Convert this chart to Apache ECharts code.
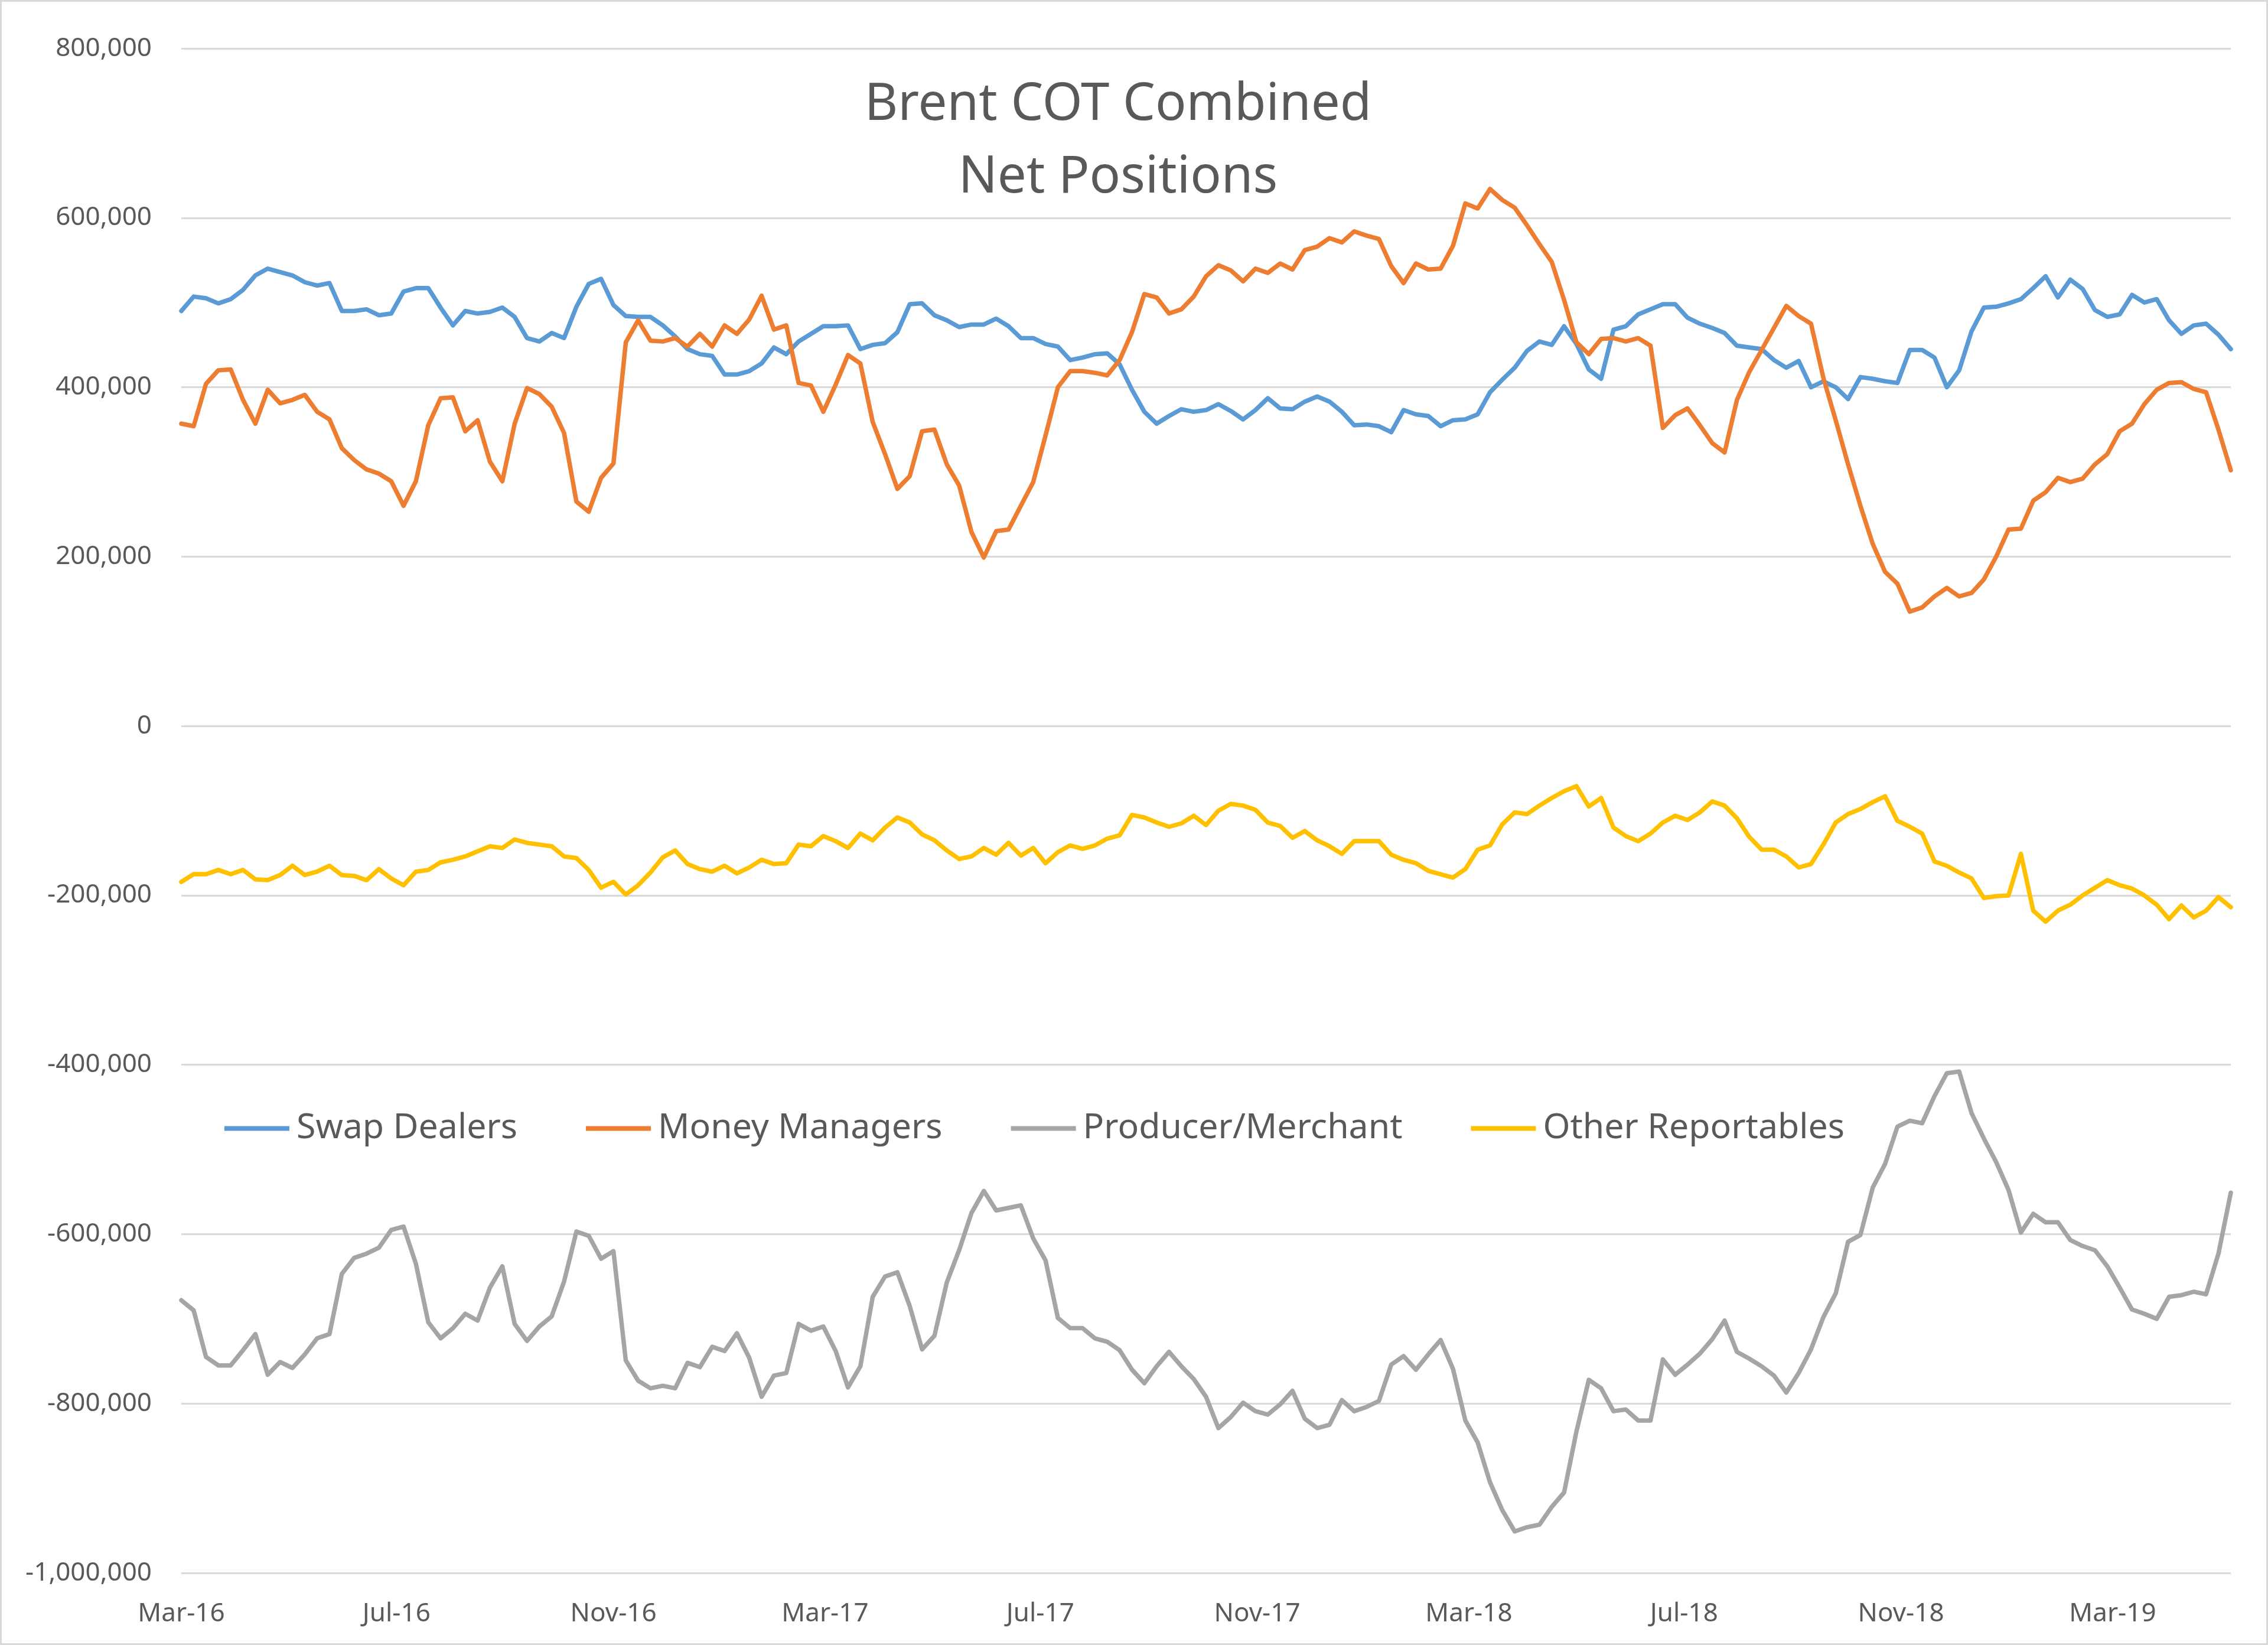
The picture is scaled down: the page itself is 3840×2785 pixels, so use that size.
<!DOCTYPE html>
<html>
<head>
<meta charset="utf-8">
<script src="https://cdn.jsdelivr.net/npm/echarts@6/dist/echarts.min.js"></script>
<style>html,body{margin:0;padding:0;background:#fff}#c{width:3840px;height:2785px}</style>
</head>
<body>
<div id="c"></div>
<script>
// ---- data ----
const seriesNames = ['Swap Dealers', 'Money Managers', 'Producer/Merchant', 'Other Reportables'];
const startDate = '2016-03-01';   // first weekly report (Tuesday)
const weekCount = 167;
const tickDates = ['2016-03-01','2016-07-01','2016-11-01','2017-03-01','2017-07-01','2017-11-01','2018-03-01','2018-07-01','2018-11-01','2019-03-01'];
const tickLabels = ['Mar-16','Jul-16','Nov-16','Mar-17','Jul-17','Nov-17','Mar-18','Jul-18','Nov-18','Mar-19'];
const yTicks = [-1000000,-800000,-600000,-400000,-200000,0,200000,400000,600000,800000];

const swapDealers = [490000,507000,505000,499000,504000,515000,532000,540000,536000,532000,
524000,520000,523000,490000,490000,492000,485000,487000,513000,517000,
517000,494000,473000,490000,487000,489000,494000,483000,458000,454000,
464000,458000,495000,522000,528000,497000,484000,483000,483000,473000,
460000,445000,439000,437000,415000,415000,419000,428000,447000,439000,
454000,463000,472000,472000,473000,445000,450000,452000,465000,498000,
499000,485000,479000,471000,474000,474000,481000,472000,458000,458000,
451000,448000,432000,435000,439000,440000,427000,397000,371000,357000,
366000,374000,371000,373000,380000,372000,362000,373000,387000,375000,
374000,383000,389000,383000,371000,355000,356000,354000,347000,373000,
368000,366000,354000,361000,362000,368000,394000,409000,423000,443000,
454000,450000,472000,451000,421000,410000,468000,472000,486000,492000,
498000,498000,482000,475000,470000,464000,449000,447000,445000,432000,
423000,431000,400000,407000,400000,386000,412000,410000,407000,405000,
444000,444000,435000,400000,420000,466000,494000,495000,499000,504000,
517000,531000,506000,527000,516000,491000,483000,486000,509000,500000,
504000,479000,463000,473000,475000,462000,445000];

const moneyManagers = [357000,354000,404000,420000,421000,385000,357000,397000,381000,385000,
391000,371000,362000,328000,314000,303000,298000,289000,260000,289000,
355000,387000,388000,348000,361000,312000,289000,357000,399000,392000,
377000,346000,265000,253000,293000,310000,453000,479000,455000,454000,
458000,448000,463000,448000,473000,463000,480000,508000,468000,473000,
405000,402000,371000,403000,438000,428000,359000,321000,280000,295000,
348000,350000,309000,284000,229000,199000,230000,232000,260000,288000,
343000,400000,419000,419000,417000,414000,432000,465000,510000,506000,
487000,492000,507000,531000,544000,538000,525000,540000,535000,546000,
539000,562000,566000,576000,571000,584000,579000,575000,543000,523000,
546000,539000,540000,567000,617000,611000,634000,621000,612000,591000,
569000,548000,503000,453000,439000,457000,458000,454000,458000,449000,
352000,367000,375000,355000,334000,323000,385000,418000,444000,470000,
496000,484000,475000,411000,361000,309000,260000,215000,182000,168000,
135000,140000,153000,163000,153000,157000,173000,200000,232000,233000,
266000,276000,293000,288000,292000,309000,321000,348000,357000,380000,
397000,405000,406000,398000,394000,350000,302000];

const producerMerchant = [-678000,-690000,-745000,-755000,-755000,-737000,-718000,-766000,-751000,-758000,
-742000,-723000,-718000,-647000,-628000,-623000,-616000,-595000,-591000,-635000,
-704000,-723000,-711000,-694000,-702000,-663000,-638000,-706000,-726000,-709000,
-697000,-656000,-597000,-602000,-629000,-620000,-749000,-773000,-782000,-779000,
-782000,-752000,-757000,-733000,-738000,-717000,-746000,-792000,-767000,-764000,
-706000,-714000,-709000,-738000,-781000,-756000,-674000,-650000,-645000,-685000,
-736000,-720000,-657000,-619000,-575000,-549000,-572000,-569000,-566000,-605000,
-631000,-699000,-711000,-711000,-723000,-727000,-737000,-760000,-776000,-756000,
-739000,-756000,-771000,-792000,-829000,-816000,-799000,-809000,-813000,-801000,
-785000,-818000,-829000,-825000,-796000,-809000,-804000,-797000,-754000,-744000,
-760000,-742000,-725000,-759000,-820000,-846000,-893000,-926000,-951000,-946000,
-943000,-922000,-905000,-833000,-772000,-782000,-809000,-807000,-820000,-820000,
-748000,-766000,-754000,-741000,-724000,-702000,-739000,-747000,-756000,-767000,
-787000,-764000,-736000,-698000,-670000,-609000,-601000,-545000,-517000,-473000,
-466000,-469000,-437000,-410000,-408000,-457000,-487000,-515000,-548000,-598000,
-576000,-586000,-586000,-607000,-614000,-619000,-638000,-663000,-689000,-694000,
-700000,-674000,-672000,-668000,-671000,-623000,-551000];

const otherReportables = [-184000,-175000,-175000,-170000,-175000,-170000,-181000,-182000,-176000,-165000,
-176000,-172000,-165000,-176000,-177000,-182000,-169000,-180000,-188000,-172000,
-170000,-161000,-158000,-154000,-148000,-142000,-144000,-134000,-138000,-140000,
-142000,-154000,-156000,-170000,-191000,-184000,-199000,-188000,-173000,-155000,
-147000,-163000,-169000,-172000,-165000,-174000,-167000,-158000,-163000,-162000,
-140000,-142000,-130000,-136000,-144000,-127000,-135000,-120000,-108000,-114000,
-128000,-135000,-147000,-157000,-154000,-144000,-152000,-138000,-153000,-144000,
-162000,-149000,-141000,-145000,-141000,-133000,-129000,-105000,-108000,-114000,
-119000,-115000,-106000,-117000,-100000,-92000,-94000,-99000,-114000,-118000,
-132000,-124000,-135000,-142000,-151000,-136000,-136000,-136000,-152000,-158000,
-162000,-171000,-175000,-179000,-169000,-146000,-141000,-116000,-102000,-104000,
-94000,-85000,-77000,-71000,-95000,-85000,-120000,-130000,-136000,-127000,
-114000,-106000,-111000,-102000,-89000,-94000,-109000,-131000,-146000,-146000,
-154000,-167000,-163000,-140000,-114000,-104000,-98000,-90000,-83000,-112000,
-119000,-127000,-160000,-165000,-173000,-180000,-203000,-201000,-200000,-151000,
-218000,-231000,-218000,-211000,-200000,-191000,-182000,-188000,-192000,-200000,
-211000,-228000,-212000,-226000,-218000,-202000,-214000];

const seriesColors = ['#5B9BD5', '#ED7D31', '#A5A5A5', '#FFC000'];

// ---- build ----
const DAY = 86400000;
const t0 = Date.parse(startDate + 'T00:00:00Z');
const dates = [];
for (let i = 0; i < weekCount; i++) dates.push(t0 + i * 7 * DAY);
const tickTimes = tickDates.map(d => Date.parse(d + 'T00:00:00Z'));
const tickMap = {};
tickTimes.forEach((t, i) => { tickMap[t] = tickLabels[i]; });

const values = [swapDealers, moneyManagers, producerMerchant, otherReportables];
const FONT = 'Noto Sans';
const TXT = '#595959';

const chart = echarts.init(document.getElementById('c'), null, {renderer: 'canvas'});
chart.setOption({
  backgroundColor: '#ffffff',
  animation: false,
  title: {
    text: 'Brent COT Combined\nNet Positions',
    left: 1888, top: 112, textAlign: 'center',
    textStyle: {fontFamily: FONT, fontSize: 87, fontWeight: 'normal', color: TXT, lineHeight: 123}
  },
  legend: {
    left: 375, top: 1876,
    icon: 'rect', itemWidth: 110, itemHeight: 8, itemGap: 116,
    textStyle: {fontFamily: FONT, fontSize: 59, color: TXT, padding: [0, 0, 0, 7]},
    data: seriesNames
  },
  grid: {left: 307, right: 63, top: 82, bottom: 122, containLabel: false},
  xAxis: {
    type: 'value',
    min: dates[0], max: dates[dates.length - 1],
    axisLine: {show: false},
    axisTick: {show: false},
    splitLine: {show: false},
    axisLabel: {
      customValues: tickTimes,
      formatter: v => tickMap[v] !== undefined ? tickMap[v] : '',
      fontFamily: FONT, fontSize: 44, color: TXT, margin: 47,
      showMinLabel: true, showMaxLabel: true
    }
  },
  yAxis: {
    type: 'value',
    min: yTicks[0], max: yTicks[yTicks.length - 1], interval: 200000,
    axisLine: {show: false},
    axisTick: {show: false},
    splitLine: {lineStyle: {color: '#D9D9D9', width: 3}},
    axisLabel: {
      formatter: v => v.toLocaleString('en-US'),
      fontFamily: FONT, fontSize: 44, color: TXT, margin: 50
    }
  },
  series: seriesNames.map((name, k) => ({
    name: name,
    type: 'line',
    showSymbol: false,
    symbol: 'none',
    color: seriesColors[k],
    lineStyle: {width: 7.5, color: seriesColors[k], join: 'round', cap: 'round'},
    data: dates.map((d, i) => [d, values[k][i]])
  })),
  graphic: [{
    type: 'rect', silent: true,
    shape: {x: 1.5, y: 1.5, width: 3837, height: 2782},
    style: {fill: 'none', stroke: '#D9D9D9', lineWidth: 3}
  }]
});
</script>
</body>
</html>
